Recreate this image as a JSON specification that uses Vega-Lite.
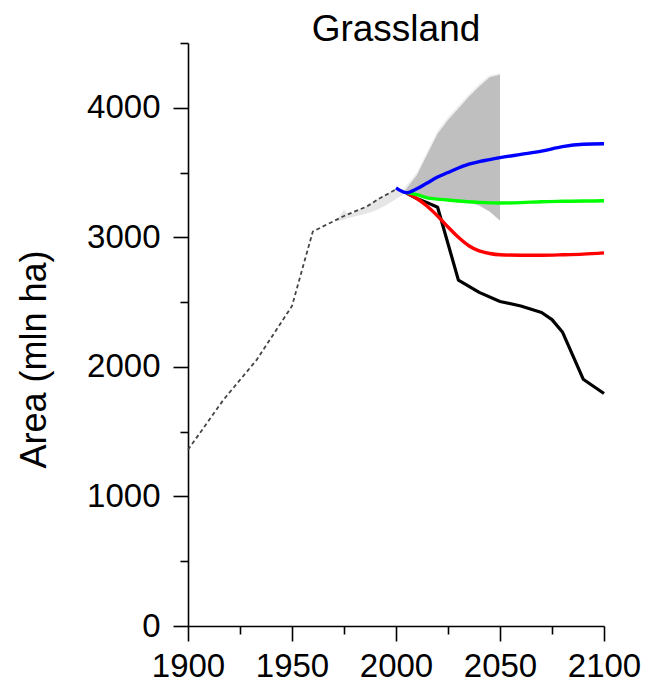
{
  "$schema": "https://vega.github.io/schema/vega-lite/v6.json",
  "width": 416,
  "height": 583,
  "autosize": {"type": "none"},
  "padding": {"left": 188, "top": 43, "right": 42, "bottom": 57},
  "background": "white",
  "config": {
    "view": {"stroke": null},
    "font": "Liberation Sans",
    "axis": {
      "grid": false,
      "domainColor": "#000",
      "tickColor": "#000",
      "domainWidth": 1.6,
      "tickWidth": 1.6,
      "labelFont": "Liberation Sans",
      "labelFontSize": 33,
      "labelColor": "#000",
      "titleFont": "Liberation Sans",
      "titleFontWeight": "normal",
      "titleColor": "#000"
    }
  },
  "title": {
    "text": "Grassland",
    "font": "Liberation Sans",
    "fontSize": 37,
    "fontWeight": "normal",
    "color": "#000",
    "anchor": "middle",
    "frame": "group",
    "offset": -22
  },
  "datasets": {
    "lines": [
      {"series": "hist", "year": 1900, "value": 1360},
      {"series": "hist", "year": 1917, "value": 1745},
      {"series": "hist", "year": 1933, "value": 2054},
      {"series": "hist", "year": 1950, "value": 2470},
      {"series": "hist", "year": 1960, "value": 3045},
      {"series": "hist", "year": 1970, "value": 3125},
      {"series": "hist", "year": 1976, "value": 3172},
      {"series": "hist", "year": 1986, "value": 3238},
      {"series": "hist", "year": 1992, "value": 3300},
      {"series": "hist", "year": 2000, "value": 3370},
      {"series": "black", "year": 2005, "value": 3342},
      {"series": "black", "year": 2010, "value": 3300},
      {"series": "black", "year": 2015, "value": 3268},
      {"series": "black", "year": 2020, "value": 3232},
      {"series": "black", "year": 2030, "value": 2670},
      {"series": "black", "year": 2040, "value": 2575},
      {"series": "black", "year": 2050, "value": 2505},
      {"series": "black", "year": 2060, "value": 2470},
      {"series": "black", "year": 2070, "value": 2420},
      {"series": "black", "year": 2075, "value": 2365},
      {"series": "black", "year": 2080, "value": 2270},
      {"series": "black", "year": 2090, "value": 1905},
      {"series": "black", "year": 2100, "value": 1795},
      {"series": "red", "year": 2005, "value": 3345},
      {"series": "red", "year": 2010, "value": 3300},
      {"series": "red", "year": 2015, "value": 3240},
      {"series": "red", "year": 2020, "value": 3165},
      {"series": "red", "year": 2025, "value": 3080},
      {"series": "red", "year": 2030, "value": 3000},
      {"series": "red", "year": 2035, "value": 2935},
      {"series": "red", "year": 2040, "value": 2895},
      {"series": "red", "year": 2045, "value": 2875},
      {"series": "red", "year": 2050, "value": 2865},
      {"series": "red", "year": 2060, "value": 2862},
      {"series": "red", "year": 2070, "value": 2862},
      {"series": "red", "year": 2080, "value": 2865},
      {"series": "red", "year": 2090, "value": 2870},
      {"series": "red", "year": 2100, "value": 2880},
      {"series": "green", "year": 2005, "value": 3345},
      {"series": "green", "year": 2010, "value": 3330},
      {"series": "green", "year": 2015, "value": 3305},
      {"series": "green", "year": 2020, "value": 3295},
      {"series": "green", "year": 2025, "value": 3288},
      {"series": "green", "year": 2030, "value": 3280},
      {"series": "green", "year": 2040, "value": 3270},
      {"series": "green", "year": 2050, "value": 3265},
      {"series": "green", "year": 2060, "value": 3268},
      {"series": "green", "year": 2070, "value": 3275},
      {"series": "green", "year": 2080, "value": 3278},
      {"series": "green", "year": 2090, "value": 3280},
      {"series": "green", "year": 2100, "value": 3282},
      {"series": "blue", "year": 2000, "value": 3382},
      {"series": "blue", "year": 2005, "value": 3345},
      {"series": "blue", "year": 2010, "value": 3375},
      {"series": "blue", "year": 2015, "value": 3420},
      {"series": "blue", "year": 2020, "value": 3465},
      {"series": "blue", "year": 2025, "value": 3500},
      {"series": "blue", "year": 2030, "value": 3535},
      {"series": "blue", "year": 2035, "value": 3565},
      {"series": "blue", "year": 2040, "value": 3585},
      {"series": "blue", "year": 2045, "value": 3600},
      {"series": "blue", "year": 2050, "value": 3615},
      {"series": "blue", "year": 2060, "value": 3640},
      {"series": "blue", "year": 2070, "value": 3665},
      {"series": "blue", "year": 2080, "value": 3700},
      {"series": "blue", "year": 2090, "value": 3718},
      {"series": "blue", "year": 2100, "value": 3722}
    ],
    "futureBand": [
      {"year": 2004, "lo": 3350, "hi": 3355},
      {"year": 2010, "lo": 3330, "hi": 3480},
      {"year": 2015, "lo": 3305, "hi": 3640},
      {"year": 2020, "lo": 3292, "hi": 3800},
      {"year": 2025, "lo": 3285, "hi": 3905},
      {"year": 2030, "lo": 3278, "hi": 3995},
      {"year": 2035, "lo": 3270, "hi": 4085},
      {"year": 2040, "lo": 3245, "hi": 4165},
      {"year": 2045, "lo": 3200, "hi": 4235},
      {"year": 2050, "lo": 3130, "hi": 4255}
    ],
    "halo": [
      {"year": 2003, "lo": 3340, "hi": 3365},
      {"year": 2010, "lo": 3330, "hi": 3500},
      {"year": 2015, "lo": 3305, "hi": 3665},
      {"year": 2020, "lo": 3292, "hi": 3825},
      {"year": 2025, "lo": 3285, "hi": 3928},
      {"year": 2030, "lo": 3278, "hi": 4018},
      {"year": 2035, "lo": 3270, "hi": 4105},
      {"year": 2040, "lo": 3245, "hi": 4185},
      {"year": 2045, "lo": 3200, "hi": 4252},
      {"year": 2050, "lo": 3130, "hi": 4268}
    ],
    "histBand": [
      {"year": 1972, "lo": 3125, "hi": 3140},
      {"year": 1975, "lo": 3135, "hi": 3215},
      {"year": 1977, "lo": 3150, "hi": 3170},
      {"year": 1985, "lo": 3180, "hi": 3232},
      {"year": 1990, "lo": 3205, "hi": 3285},
      {"year": 1995, "lo": 3245, "hi": 3330},
      {"year": 2000, "lo": 3295, "hi": 3372},
      {"year": 2004, "lo": 3335, "hi": 3360}
    ]
  },
  "encoding": {
    "x": {
      "field": "year",
      "type": "quantitative",
      "scale": {"domain": [1900, 2100], "nice": false, "zero": false},
      "axis": {
        "title": null,
        "values": [1900, 1925, 1950, 1975, 2000, 2025, 2050, 2075, 2100],
        "format": "d",
        "labelExpr": "datum.value % 50 === 0 ? datum.label : ''",
        "tickSize": {"condition": {"test": "datum.value % 50 === 0", "value": 15}, "value": 8},
        "labelPadding": 9,
        "labelFlush": false,
        "labelOverlap": false
      }
    }
  },
  "layer": [
    {
      "data": {"name": "histBand"},
      "mark": {"type": "area", "color": "#e6e6e6"},
      "encoding": {
        "y": {
          "field": "lo",
          "type": "quantitative",
          "scale": {"domain": [0, 4500], "nice": false},
          "axis": {
            "title": "Area (mln ha)",
            "titleFontSize": 36,
            "titleAngle": -90,
            "titleX": -143,
            "titleY": 316,
            "titleAlign": "center",
            "titleBaseline": "alphabetic",
            "values": [0, 500, 1000, 1500, 2000, 2500, 3000, 3500, 4000, 4500],
            "format": "d",
            "labelExpr": "datum.value % 1000 === 0 ? datum.label : ''",
            "tickSize": {"condition": {"test": "datum.value % 1000 === 0", "value": 15}, "value": 8},
            "labelPadding": 13,
            "labelFlush": false,
            "labelOverlap": false
          }
        },
        "y2": {"field": "hi"}
      }
    },
    {
      "data": {"name": "halo"},
      "mark": {"type": "area", "color": "#efefef"},
      "encoding": {
        "y": {"field": "lo", "type": "quantitative", "scale": {"domain": [0, 4500], "nice": false}},
        "y2": {"field": "hi"}
      }
    },
    {
      "data": {"name": "futureBand"},
      "mark": {"type": "area", "color": "#bfbfbf"},
      "encoding": {
        "y": {"field": "lo", "type": "quantitative", "scale": {"domain": [0, 4500], "nice": false}},
        "y2": {"field": "hi"}
      }
    },
    {
      "data": {"name": "lines"},
      "transform": [{"filter": "datum.series === 'hist'"}],
      "mark": {"type": "line", "color": "#444444", "strokeWidth": 1.8, "strokeDash": [4, 3]},
      "encoding": {"y": {"field": "value", "type": "quantitative", "scale": {"domain": [0, 4500], "nice": false}}}
    },
    {
      "data": {"name": "lines"},
      "transform": [{"filter": "datum.series === 'black'"}],
      "mark": {"type": "line", "color": "#000000", "strokeWidth": 3.2, "strokeJoin": "round"},
      "encoding": {"y": {"field": "value", "type": "quantitative", "scale": {"domain": [0, 4500], "nice": false}}}
    },
    {
      "data": {"name": "lines"},
      "transform": [{"filter": "datum.series === 'red'"}],
      "mark": {"type": "line", "color": "#ff0000", "strokeWidth": 3.4, "interpolate": "monotone"},
      "encoding": {"y": {"field": "value", "type": "quantitative", "scale": {"domain": [0, 4500], "nice": false}}}
    },
    {
      "data": {"name": "lines"},
      "transform": [{"filter": "datum.series === 'green'"}],
      "mark": {"type": "line", "color": "#00ff00", "strokeWidth": 3.4, "interpolate": "monotone"},
      "encoding": {"y": {"field": "value", "type": "quantitative", "scale": {"domain": [0, 4500], "nice": false}}}
    },
    {
      "data": {"name": "lines"},
      "transform": [{"filter": "datum.series === 'blue'"}],
      "mark": {"type": "line", "color": "#0000ff", "strokeWidth": 3.4, "interpolate": "monotone"},
      "encoding": {"y": {"field": "value", "type": "quantitative", "scale": {"domain": [0, 4500], "nice": false}}}
    }
  ]
}
